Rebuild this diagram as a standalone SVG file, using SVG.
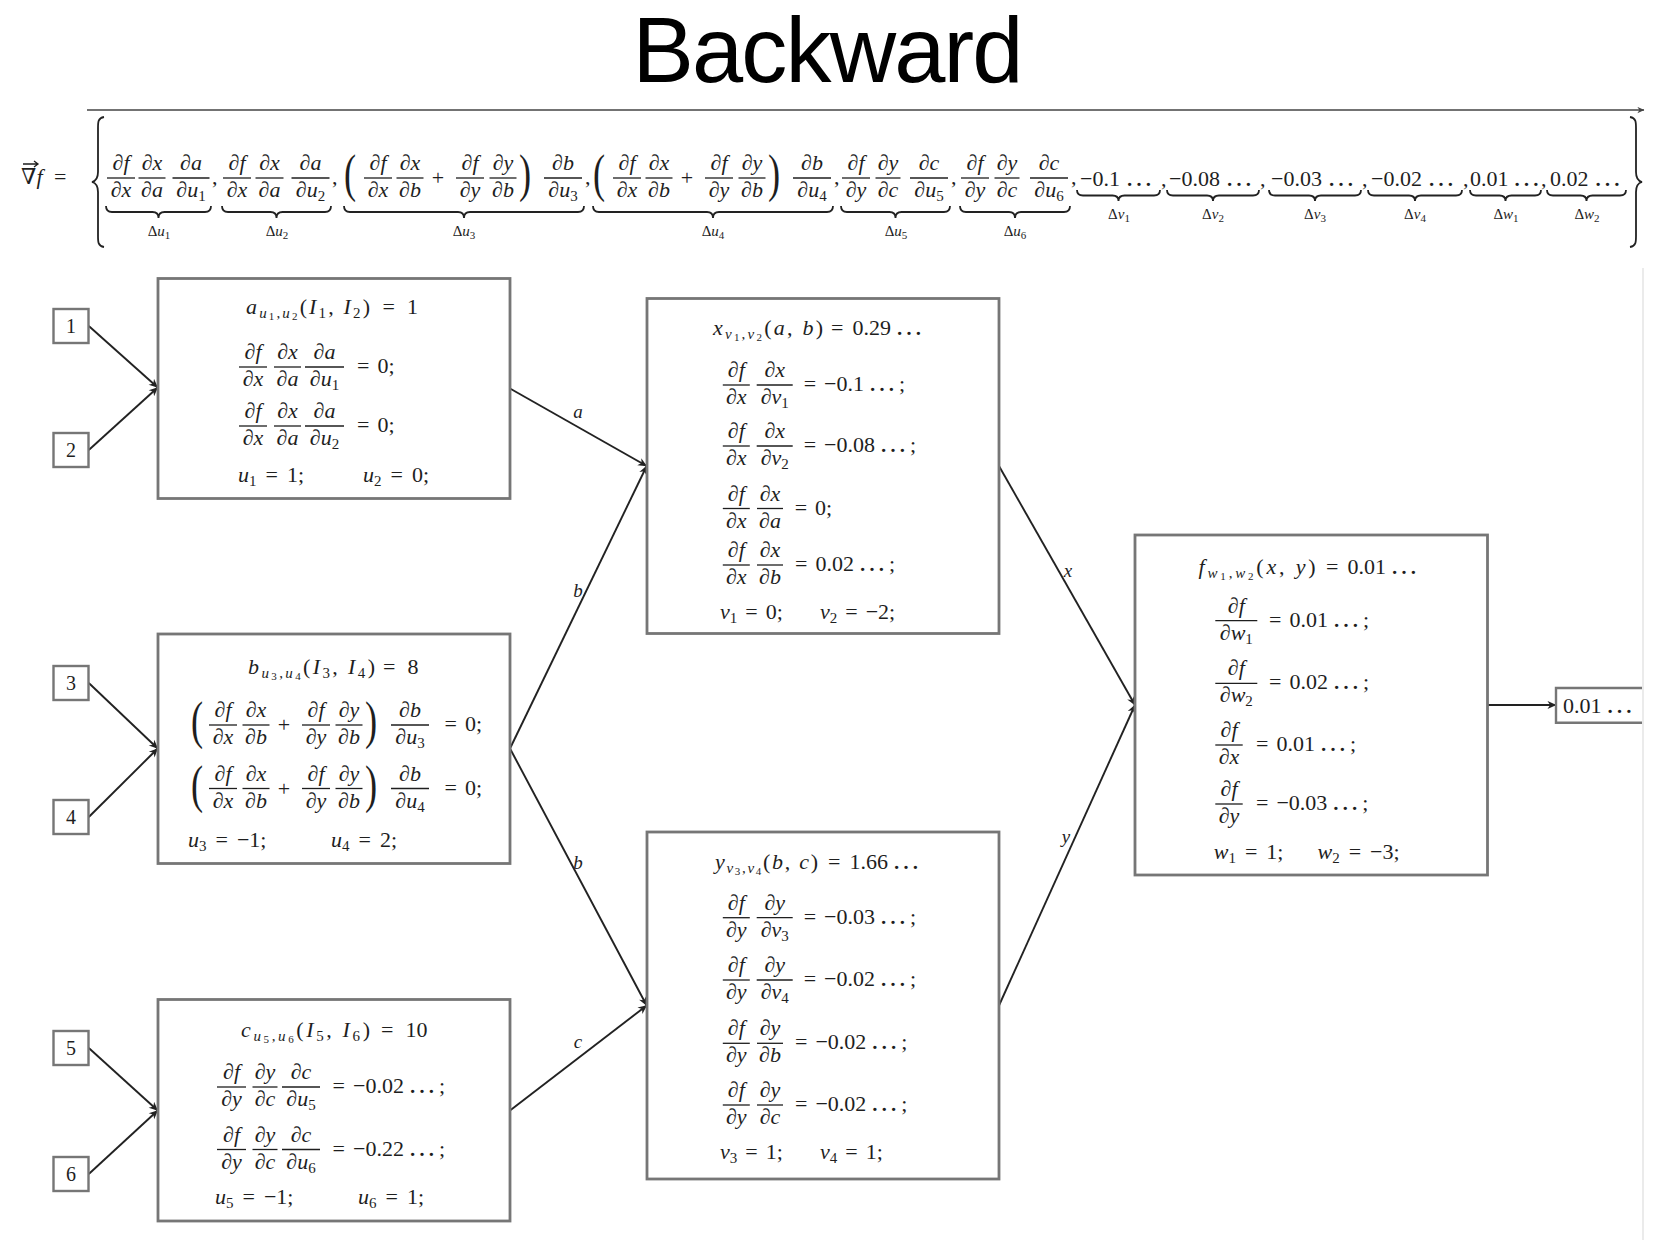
<svg xmlns="http://www.w3.org/2000/svg" width="1655" height="1240" viewBox="0 0 1655 1240">
<defs>
<style>
.t{font-family:"Liberation Serif","DejaVu Serif",serif;font-size:22px;fill:#1e1e1e}
.c{text-anchor:middle}
.i{font-style:italic}
.ss{font-size:15px}
.sss{font-size:11px}
.sm{font-size:15px}
.el{font-size:28px}
.big{font-size:52px}
.dg{font-size:20px}
.fb{stroke:#1e1e1e;stroke-width:1.3}
.nb{fill:#fff;stroke:#767676;stroke-width:2.8}
.ib{fill:#fff;stroke:#767676;stroke-width:2.4}
.e{stroke:#222;stroke-width:1.9;fill:none;marker-end:url(#ah)}
.br{stroke:#222;stroke-width:1.8;fill:none}
.lb{font-family:"Liberation Serif","DejaVu Serif",serif;font-size:19px;font-style:italic;fill:#222;text-anchor:middle}
.ttl{font-family:"Liberation Sans",Arial,sans-serif;font-size:92px;fill:#000;text-anchor:middle}
</style>
<marker id="ah" viewBox="0 0 10 10" refX="9.5" refY="5" markerUnits="userSpaceOnUse" markerWidth="10" markerHeight="9" orient="auto">
<path d="M0,0.5 L10,5 L0,9.5 L3,5 z" fill="#222"/>
</marker>
<marker id="ah2" viewBox="0 0 10 10" refX="9.5" refY="5" markerUnits="userSpaceOnUse" markerWidth="8" markerHeight="7" orient="auto">
<path d="M0,0.5 L10,5 L0,9.5 L3,5 z" fill="#444"/>
</marker>
</defs>
<rect width="1655" height="1240" fill="#fff"/>

<g id="title"><text class="ttl" x="828" y="82" textLength="391">Backward</text></g>

<g id="timeline"><line x1="87" y1="110" x2="1644" y2="110" stroke="#444" stroke-width="1.4" marker-end="url(#ah2)"/></g>
<line x1="1643" y1="268" x2="1643" y2="1240" stroke="#e4e4e4" stroke-width="1.5"/>

<g id="gradient">
<path d="M23,164 H37.5 M34,161 L38,164 L34,167" stroke="#1e1e1e" stroke-width="1.3" fill="none"/>
<text class="t" x="21" y="184">∇<tspan class="i">f</tspan></text>
<text class="t" x="54" y="184">=</text>
<path class="br" d="M104,117 C98,118 98,122 98,128 L98,172 C98,178 96,181 92,182 C96,183 98,186 98,192 L98,236 C98,242 98,246 104,247"/>
<path class="br" d="M1630,117 C1636,118 1636,122 1636,128 L1636,172 C1636,178 1638,181 1642,182 C1638,183 1636,186 1636,192 L1636,236 C1636,242 1636,246 1630,247"/>
<!-- du1 -->
<g transform="translate(121,178)"><text class="t c" y="-8">∂<tspan class="i">f</tspan></text><line class="fb" x1="-14" x2="14"/><text class="t c" y="19">∂<tspan class="i">x</tspan></text></g>
<g transform="translate(152,178)"><text class="t c" y="-8">∂<tspan class="i">x</tspan></text><line class="fb" x1="-13.5" x2="13.5"/><text class="t c" y="19">∂<tspan class="i">a</tspan></text></g>
<g transform="translate(191,178)"><text class="t c" y="-8">∂<tspan class="i">a</tspan></text><line class="fb" x1="-18.5" x2="18.5"/><text class="t c" y="19">∂<tspan class="i">u</tspan><tspan class="ss" dy="4">1</tspan></text></g>
<text class="t" x="212" y="184">,</text>
<!-- du2 -->
<g transform="translate(237,178)"><text class="t c" y="-8">∂<tspan class="i">f</tspan></text><line class="fb" x1="-14" x2="14"/><text class="t c" y="19">∂<tspan class="i">x</tspan></text></g>
<g transform="translate(269.5,178)"><text class="t c" y="-8">∂<tspan class="i">x</tspan></text><line class="fb" x1="-14" x2="14"/><text class="t c" y="19">∂<tspan class="i">a</tspan></text></g>
<g transform="translate(310.5,178)"><text class="t c" y="-8">∂<tspan class="i">a</tspan></text><line class="fb" x1="-19" x2="19"/><text class="t c" y="19">∂<tspan class="i">u</tspan><tspan class="ss" dy="4">2</tspan></text></g>
<text class="t" x="332" y="184">,</text>
<!-- du3 -->
<text class="t big" transform="translate(344,191) scale(0.7,1)">(</text>
<g transform="translate(378,178)"><text class="t c" y="-8">∂<tspan class="i">f</tspan></text><line class="fb" x1="-14" x2="14"/><text class="t c" y="19">∂<tspan class="i">x</tspan></text></g>
<g transform="translate(410,178)"><text class="t c" y="-8">∂<tspan class="i">x</tspan></text><line class="fb" x1="-13.5" x2="13.5"/><text class="t c" y="19">∂<tspan class="i">b</tspan></text></g>
<text class="t c" x="438" y="185">+</text>
<g transform="translate(470,178)"><text class="t c" y="-8">∂<tspan class="i">f</tspan></text><line class="fb" x1="-14" x2="14"/><text class="t c" y="19">∂<tspan class="i">y</tspan></text></g>
<g transform="translate(503,178)"><text class="t c" y="-8">∂<tspan class="i">y</tspan></text><line class="fb" x1="-13.5" x2="13.5"/><text class="t c" y="19">∂<tspan class="i">b</tspan></text></g>
<text class="t big" transform="translate(519,191) scale(0.7,1)">)</text>
<g transform="translate(563,178)"><text class="t c" y="-8">∂<tspan class="i">b</tspan></text><line class="fb" x1="-19" x2="19"/><text class="t c" y="19">∂<tspan class="i">u</tspan><tspan class="ss" dy="4">3</tspan></text></g>
<text class="t" x="585" y="184">,</text>
<!-- du4 -->
<text class="t big" transform="translate(593,191) scale(0.7,1)">(</text>
<g transform="translate(627,178)"><text class="t c" y="-8">∂<tspan class="i">f</tspan></text><line class="fb" x1="-14" x2="14"/><text class="t c" y="19">∂<tspan class="i">x</tspan></text></g>
<g transform="translate(659,178)"><text class="t c" y="-8">∂<tspan class="i">x</tspan></text><line class="fb" x1="-13.5" x2="13.5"/><text class="t c" y="19">∂<tspan class="i">b</tspan></text></g>
<text class="t c" x="687" y="185">+</text>
<g transform="translate(719,178)"><text class="t c" y="-8">∂<tspan class="i">f</tspan></text><line class="fb" x1="-14" x2="14"/><text class="t c" y="19">∂<tspan class="i">y</tspan></text></g>
<g transform="translate(752,178)"><text class="t c" y="-8">∂<tspan class="i">y</tspan></text><line class="fb" x1="-13.5" x2="13.5"/><text class="t c" y="19">∂<tspan class="i">b</tspan></text></g>
<text class="t big" transform="translate(768,191) scale(0.7,1)">)</text>
<g transform="translate(812,178)"><text class="t c" y="-8">∂<tspan class="i">b</tspan></text><line class="fb" x1="-19" x2="19"/><text class="t c" y="19">∂<tspan class="i">u</tspan><tspan class="ss" dy="4">4</tspan></text></g>
<text class="t" x="834" y="184">,</text>
<!-- du5 -->
<g transform="translate(856,178)"><text class="t c" y="-8">∂<tspan class="i">f</tspan></text><line class="fb" x1="-14" x2="14"/><text class="t c" y="19">∂<tspan class="i">y</tspan></text></g>
<g transform="translate(888,178)"><text class="t c" y="-8">∂<tspan class="i">y</tspan></text><line class="fb" x1="-12.5" x2="12.5"/><text class="t c" y="19">∂<tspan class="i">c</tspan></text></g>
<g transform="translate(929,178)"><text class="t c" y="-8">∂<tspan class="i">c</tspan></text><line class="fb" x1="-19" x2="19"/><text class="t c" y="19">∂<tspan class="i">u</tspan><tspan class="ss" dy="4">5</tspan></text></g>
<text class="t" x="951" y="184">,</text>
<!-- du6 -->
<g transform="translate(975,178)"><text class="t c" y="-8">∂<tspan class="i">f</tspan></text><line class="fb" x1="-14" x2="14"/><text class="t c" y="19">∂<tspan class="i">y</tspan></text></g>
<g transform="translate(1007,178)"><text class="t c" y="-8">∂<tspan class="i">y</tspan></text><line class="fb" x1="-12.5" x2="12.5"/><text class="t c" y="19">∂<tspan class="i">c</tspan></text></g>
<g transform="translate(1049,178)"><text class="t c" y="-8">∂<tspan class="i">c</tspan></text><line class="fb" x1="-19" x2="19"/><text class="t c" y="19">∂<tspan class="i">u</tspan><tspan class="ss" dy="4">6</tspan></text></g>
<text class="t" x="1071" y="184">,</text>
<!-- numbers -->
<text class="t" x="1080" y="186">−0.1<tspan class="el" dx="5">…</tspan></text><text class="t" x="1161" y="186">,</text>
<text class="t" x="1169" y="186">−0.08<tspan class="el" dx="5">…</tspan></text><text class="t" x="1260" y="186">,</text>
<text class="t" x="1271" y="186">−0.03<tspan class="el" dx="5">…</tspan></text><text class="t" x="1362" y="186">,</text>
<text class="t" x="1371" y="186">−0.02<tspan class="el" dx="5">…</tspan></text><text class="t" x="1463" y="186">,</text>
<text class="t" x="1470" y="186">0.01<tspan class="el" dx="4">…</tspan></text><text class="t" x="1541" y="186">,</text>
<text class="t" x="1550" y="186">0.02<tspan class="el" dx="5">…</tspan></text>
<!-- underbraces -->
<path class="br" d="M106,206 Q106,212 112,212 L152.5,212 Q158.5,212 158.5,218 Q158.5,212 164.5,212 L205,212 Q211,212 211,206"/>
<path class="br" d="M222,206 Q222,212 228,212 L270.5,212 Q276.5,212 276.5,218 Q276.5,212 282.5,212 L325,212 Q331,212 331,206"/>
<path class="br" d="M344,206 Q344,212 350,212 L458,212 Q464,212 464,218 Q464,212 470,212 L578,212 Q584,212 584,206"/>
<path class="br" d="M593,206 Q593,212 599,212 L707,212 Q713,212 713,218 Q713,212 719,212 L827,212 Q833,212 833,206"/>
<path class="br" d="M841,206 Q841,212 847,212 L889.5,212 Q895.5,212 895.5,218 Q895.5,212 901.5,212 L944,212 Q950,212 950,206"/>
<path class="br" d="M960,206 Q960,212 966,212 L1009,212 Q1015,212 1015,218 Q1015,212 1021,212 L1064,212 Q1070,212 1070,206"/>
<path class="br" d="M1077,190 Q1077,195.5 1083,195.5 L1112.5,195.5 Q1118.5,195.5 1118.5,201 Q1118.5,195.5 1124.5,195.5 L1154,195.5 Q1160,195.5 1160,190"/>
<path class="br" d="M1167,190 Q1167,195.5 1173,195.5 L1207,195.5 Q1213,195.5 1213,201 Q1213,195.5 1219,195.5 L1253,195.5 Q1259,195.5 1259,190"/>
<path class="br" d="M1269,190 Q1269,195.5 1275,195.5 L1309,195.5 Q1315,195.5 1315,201 Q1315,195.5 1321,195.5 L1355,195.5 Q1361,195.5 1361,190"/>
<path class="br" d="M1368,190 Q1368,195.5 1374,195.5 L1409,195.5 Q1415,195.5 1415,201 Q1415,195.5 1421,195.5 L1456,195.5 Q1462,195.5 1462,190"/>
<path class="br" d="M1470,190 Q1470,195.5 1476,195.5 L1499.5,195.5 Q1505.5,195.5 1505.5,201 Q1505.5,195.5 1511.5,195.5 L1535,195.5 Q1541,195.5 1541,190"/>
<path class="br" d="M1547,190 Q1547,195.5 1553,195.5 L1580.5,195.5 Q1586.5,195.5 1586.5,201 Q1586.5,195.5 1592.5,195.5 L1620,195.5 Q1626,195.5 1626,190"/>
<!-- labels -->
<text class="t c sm" x="159" y="236">Δ<tspan class="i">u</tspan><tspan class="sss" dy="3">1</tspan></text>
<text class="t c sm" x="277" y="236">Δ<tspan class="i">u</tspan><tspan class="sss" dy="3">2</tspan></text>
<text class="t c sm" x="464" y="236">Δ<tspan class="i">u</tspan><tspan class="sss" dy="3">3</tspan></text>
<text class="t c sm" x="713" y="236">Δ<tspan class="i">u</tspan><tspan class="sss" dy="3">4</tspan></text>
<text class="t c sm" x="896" y="236">Δ<tspan class="i">u</tspan><tspan class="sss" dy="3">5</tspan></text>
<text class="t c sm" x="1015" y="236">Δ<tspan class="i">u</tspan><tspan class="sss" dy="3">6</tspan></text>
<text class="t c sm" x="1119" y="219">Δ<tspan class="i">v</tspan><tspan class="sss" dy="3">1</tspan></text>
<text class="t c sm" x="1213" y="219">Δ<tspan class="i">v</tspan><tspan class="sss" dy="3">2</tspan></text>
<text class="t c sm" x="1315" y="219">Δ<tspan class="i">v</tspan><tspan class="sss" dy="3">3</tspan></text>
<text class="t c sm" x="1415" y="219">Δ<tspan class="i">v</tspan><tspan class="sss" dy="3">4</tspan></text>
<text class="t c sm" x="1506" y="219">Δ<tspan class="i">w</tspan><tspan class="sss" dy="3">1</tspan></text>
<text class="t c sm" x="1587" y="219">Δ<tspan class="i">w</tspan><tspan class="sss" dy="3">2</tspan></text>
</g>

<g id="connectors">
<path class="e" d="M88.8,326 L157.7,387.5"/>
<path class="e" d="M88.8,450 L157.7,387.5"/>
<path class="e" d="M88.8,683 L157.7,748.5"/>
<path class="e" d="M88.8,817 L157.7,748.5"/>
<path class="e" d="M88.8,1048 L157.7,1110.5"/>
<path class="e" d="M88.8,1174 L157.7,1110.5"/>
<path class="e" d="M510,388.5 L646.7,466"/>
<path class="e" d="M510,748.5 L646.7,466"/>
<path class="e" d="M510,748.5 L646.7,1005.5"/>
<path class="e" d="M510,1110.5 L646.7,1005.5"/>
<path class="e" d="M999,466 L1135,705"/>
<path class="e" d="M999,1005.5 L1135,705"/>
<path class="e" d="M1487.5,705 L1556,705"/>
<text class="lb" x="578" y="418">a</text>
<text class="lb" x="578" y="597">b</text>
<text class="lb" x="578" y="869">b</text>
<text class="lb" x="578" y="1048">c</text>
<text class="lb" x="1068" y="577">x</text>
<text class="lb" x="1066" y="843">y</text>
</g>

<g id="in1"><rect class="ib" x="53.5" y="309" width="35" height="34"/><text class="t c dg" x="71" y="333">1</text></g>
<g id="in2"><rect class="ib" x="53.5" y="433" width="35" height="34"/><text class="t c dg" x="71" y="457">2</text></g>
<g id="in3"><rect class="ib" x="53.5" y="666" width="35" height="34"/><text class="t c dg" x="71" y="690">3</text></g>
<g id="in4"><rect class="ib" x="53.5" y="800" width="35" height="34"/><text class="t c dg" x="71" y="824">4</text></g>
<g id="in5"><rect class="ib" x="53.5" y="1031" width="35" height="34"/><text class="t c dg" x="71" y="1055">5</text></g>
<g id="in6"><rect class="ib" x="53.5" y="1157" width="35" height="34"/><text class="t c dg" x="71" y="1181">6</text></g>

<g id="node-a">
<rect class="nb" x="158" y="278.5" width="352" height="220"/>
<text class="t" x="246" y="314" textLength="124"><tspan class="i">a</tspan><tspan class="ss i" dy="4">u</tspan><tspan class="sss" dy="2">1</tspan><tspan class="ss" dy="-2">,</tspan><tspan class="ss i">u</tspan><tspan class="sss" dy="2">2</tspan><tspan dy="-6">(</tspan><tspan class="i">I</tspan><tspan class="ss" dy="4">1</tspan><tspan dy="-4">, </tspan><tspan class="i">I</tspan><tspan class="ss" dy="4">2</tspan><tspan dy="-4">)</tspan></text>
<text class="t" x="382.5" y="314">=<tspan dx="12">1</tspan></text>
<g transform="translate(253,367)"><text class="t c" y="-8">∂<tspan class="i">f</tspan></text><line class="fb" x1="-14" x2="14"/><text class="t c" y="19">∂<tspan class="i">x</tspan></text></g>
<g transform="translate(287.5,367)"><text class="t c" y="-8">∂<tspan class="i">x</tspan></text><line class="fb" x1="-13.5" x2="13.5"/><text class="t c" y="19">∂<tspan class="i">a</tspan></text></g>
<g transform="translate(324.5,367)"><text class="t c" y="-8">∂<tspan class="i">a</tspan></text><line class="fb" x1="-19.5" x2="19.5"/><text class="t c" y="19">∂<tspan class="i">u</tspan><tspan class="ss" dy="4">1</tspan></text></g>
<text class="t" x="357" y="373">=<tspan dx="8">0;</tspan></text>
<g transform="translate(253,426)"><text class="t c" y="-8">∂<tspan class="i">f</tspan></text><line class="fb" x1="-14" x2="14"/><text class="t c" y="19">∂<tspan class="i">x</tspan></text></g>
<g transform="translate(287.5,426)"><text class="t c" y="-8">∂<tspan class="i">x</tspan></text><line class="fb" x1="-13.5" x2="13.5"/><text class="t c" y="19">∂<tspan class="i">a</tspan></text></g>
<g transform="translate(324.5,426)"><text class="t c" y="-8">∂<tspan class="i">a</tspan></text><line class="fb" x1="-19.5" x2="19.5"/><text class="t c" y="19">∂<tspan class="i">u</tspan><tspan class="ss" dy="4">2</tspan></text></g>
<text class="t" x="357" y="432">=<tspan dx="8">0;</tspan></text>
<text class="t" x="238" y="482"><tspan class="i">u</tspan><tspan class="ss" dy="4">1</tspan><tspan dy="-4" dx="9">=</tspan><tspan dx="9">1;</tspan></text>
<text class="t" x="363" y="482"><tspan class="i">u</tspan><tspan class="ss" dy="4">2</tspan><tspan dy="-4" dx="9">=</tspan><tspan dx="9">0;</tspan></text>
</g>

<g id="node-b">
<rect class="nb" x="158" y="634" width="352" height="229.5"/>
<text class="t" x="248" y="673.5" textLength="127"><tspan class="i">b</tspan><tspan class="ss i" dy="4">u</tspan><tspan class="sss" dy="2">3</tspan><tspan class="ss" dy="-2">,</tspan><tspan class="ss i">u</tspan><tspan class="sss" dy="2">4</tspan><tspan dy="-6">(</tspan><tspan class="i">I</tspan><tspan class="ss" dy="4">3</tspan><tspan dy="-4">, </tspan><tspan class="i">I</tspan><tspan class="ss" dy="4">4</tspan><tspan dy="-4">)</tspan></text>
<text class="t" x="383" y="673.5">=<tspan dx="12">8</tspan></text>
<text class="t big" transform="translate(191,738) scale(0.7,1)">(</text>
<g transform="translate(223,725)"><text class="t c" y="-8">∂<tspan class="i">f</tspan></text><line class="fb" x1="-14" x2="14"/><text class="t c" y="19">∂<tspan class="i">x</tspan></text></g>
<g transform="translate(256,725)"><text class="t c" y="-8">∂<tspan class="i">x</tspan></text><line class="fb" x1="-13.5" x2="13.5"/><text class="t c" y="19">∂<tspan class="i">b</tspan></text></g>
<text class="t c" x="284" y="732">+</text>
<g transform="translate(316,725)"><text class="t c" y="-8">∂<tspan class="i">f</tspan></text><line class="fb" x1="-14" x2="14"/><text class="t c" y="19">∂<tspan class="i">y</tspan></text></g>
<g transform="translate(349,725)"><text class="t c" y="-8">∂<tspan class="i">y</tspan></text><line class="fb" x1="-13.5" x2="13.5"/><text class="t c" y="19">∂<tspan class="i">b</tspan></text></g>
<text class="t big" transform="translate(365,738) scale(0.7,1)">)</text>
<g transform="translate(410,725)"><text class="t c" y="-8">∂<tspan class="i">b</tspan></text><line class="fb" x1="-19" x2="19"/><text class="t c" y="19">∂<tspan class="i">u</tspan><tspan class="ss" dy="4">3</tspan></text></g>
<text class="t" x="444.5" y="731">=<tspan dx="8">0;</tspan></text>
<text class="t big" transform="translate(191,801.5) scale(0.7,1)">(</text>
<g transform="translate(223,788.5)"><text class="t c" y="-8">∂<tspan class="i">f</tspan></text><line class="fb" x1="-14" x2="14"/><text class="t c" y="19">∂<tspan class="i">x</tspan></text></g>
<g transform="translate(256,788.5)"><text class="t c" y="-8">∂<tspan class="i">x</tspan></text><line class="fb" x1="-13.5" x2="13.5"/><text class="t c" y="19">∂<tspan class="i">b</tspan></text></g>
<text class="t c" x="284" y="795.5">+</text>
<g transform="translate(316,788.5)"><text class="t c" y="-8">∂<tspan class="i">f</tspan></text><line class="fb" x1="-14" x2="14"/><text class="t c" y="19">∂<tspan class="i">y</tspan></text></g>
<g transform="translate(349,788.5)"><text class="t c" y="-8">∂<tspan class="i">y</tspan></text><line class="fb" x1="-13.5" x2="13.5"/><text class="t c" y="19">∂<tspan class="i">b</tspan></text></g>
<text class="t big" transform="translate(365,801.5) scale(0.7,1)">)</text>
<g transform="translate(410,788.5)"><text class="t c" y="-8">∂<tspan class="i">b</tspan></text><line class="fb" x1="-19" x2="19"/><text class="t c" y="19">∂<tspan class="i">u</tspan><tspan class="ss" dy="4">4</tspan></text></g>
<text class="t" x="444.5" y="794.5">=<tspan dx="8">0;</tspan></text>
<text class="t" x="188" y="847"><tspan class="i">u</tspan><tspan class="ss" dy="4">3</tspan><tspan dy="-4" dx="9">=</tspan><tspan dx="9">−1;</tspan></text>
<text class="t" x="331" y="847"><tspan class="i">u</tspan><tspan class="ss" dy="4">4</tspan><tspan dy="-4" dx="9">=</tspan><tspan dx="9">2;</tspan></text>
</g>

<g id="node-c">
<rect class="nb" x="158" y="999.5" width="352" height="221.5"/>
<text class="t" x="241" y="1037" textLength="129"><tspan class="i">c</tspan><tspan class="ss i" dy="4">u</tspan><tspan class="sss" dy="2">5</tspan><tspan class="ss" dy="-2">,</tspan><tspan class="ss i">u</tspan><tspan class="sss" dy="2">6</tspan><tspan dy="-6">(</tspan><tspan class="i">I</tspan><tspan class="ss" dy="4">5</tspan><tspan dy="-4">, </tspan><tspan class="i">I</tspan><tspan class="ss" dy="4">6</tspan><tspan dy="-4">)</tspan></text>
<text class="t" x="381" y="1037">=<tspan dx="12">10</tspan></text>
<g transform="translate(231.5,1087)"><text class="t c" y="-8">∂<tspan class="i">f</tspan></text><line class="fb" x1="-14.5" x2="14.5"/><text class="t c" y="19">∂<tspan class="i">y</tspan></text></g>
<g transform="translate(265,1087)"><text class="t c" y="-8">∂<tspan class="i">y</tspan></text><line class="fb" x1="-12.5" x2="12.5"/><text class="t c" y="19">∂<tspan class="i">c</tspan></text></g>
<g transform="translate(301,1087)"><text class="t c" y="-8">∂<tspan class="i">c</tspan></text><line class="fb" x1="-19" x2="19"/><text class="t c" y="19">∂<tspan class="i">u</tspan><tspan class="ss" dy="4">5</tspan></text></g>
<text class="t" x="332.6" y="1093">=<tspan dx="8">−0.02</tspan><tspan class="el" dx="4">…</tspan><tspan dx="3">;</tspan></text>
<g transform="translate(231.5,1149.5)"><text class="t c" y="-8">∂<tspan class="i">f</tspan></text><line class="fb" x1="-14.5" x2="14.5"/><text class="t c" y="19">∂<tspan class="i">y</tspan></text></g>
<g transform="translate(265,1149.5)"><text class="t c" y="-8">∂<tspan class="i">y</tspan></text><line class="fb" x1="-12.5" x2="12.5"/><text class="t c" y="19">∂<tspan class="i">c</tspan></text></g>
<g transform="translate(301,1149.5)"><text class="t c" y="-8">∂<tspan class="i">c</tspan></text><line class="fb" x1="-19" x2="19"/><text class="t c" y="19">∂<tspan class="i">u</tspan><tspan class="ss" dy="4">6</tspan></text></g>
<text class="t" x="332.6" y="1155.5">=<tspan dx="8">−0.22</tspan><tspan class="el" dx="4">…</tspan><tspan dx="3">;</tspan></text>
<text class="t" x="215" y="1203.5"><tspan class="i">u</tspan><tspan class="ss" dy="4">5</tspan><tspan dy="-4" dx="9">=</tspan><tspan dx="9">−1;</tspan></text>
<text class="t" x="358" y="1203.5"><tspan class="i">u</tspan><tspan class="ss" dy="4">6</tspan><tspan dy="-4" dx="9">=</tspan><tspan dx="9">1;</tspan></text>
</g>

<g id="node-x">
<rect class="nb" x="647" y="298.5" width="352" height="335"/>
<text class="t" x="713" y="335" textLength="110"><tspan class="i">x</tspan><tspan class="ss i" dy="4">v</tspan><tspan class="sss" dy="2">1</tspan><tspan class="ss" dy="-2">,</tspan><tspan class="ss i">v</tspan><tspan class="sss" dy="2">2</tspan><tspan dy="-6">(</tspan><tspan class="i">a</tspan>, <tspan class="i">b</tspan>)</text>
<text class="t" x="831" y="335">=<tspan dx="9">0.29</tspan><tspan class="el" dx="4">…</tspan></text>
<g transform="translate(736.3,385)"><text class="t c" y="-8">∂<tspan class="i">f</tspan></text><line class="fb" x1="-13.5" x2="13.5"/><text class="t c" y="19">∂<tspan class="i">x</tspan></text></g>
<g transform="translate(774.7,385)"><text class="t c" y="-8">∂<tspan class="i">x</tspan></text><line class="fb" x1="-18" x2="18"/><text class="t c" y="19">∂<tspan class="i">v</tspan><tspan class="ss" dy="4">1</tspan></text></g>
<text class="t" x="803.7" y="391">=<tspan dx="8">−0.1</tspan><tspan class="el" dx="4">…</tspan><tspan dx="3">;</tspan></text>
<g transform="translate(736.3,446)"><text class="t c" y="-8">∂<tspan class="i">f</tspan></text><line class="fb" x1="-13.5" x2="13.5"/><text class="t c" y="19">∂<tspan class="i">x</tspan></text></g>
<g transform="translate(774.7,446)"><text class="t c" y="-8">∂<tspan class="i">x</tspan></text><line class="fb" x1="-18" x2="18"/><text class="t c" y="19">∂<tspan class="i">v</tspan><tspan class="ss" dy="4">2</tspan></text></g>
<text class="t" x="803.7" y="452">=<tspan dx="8">−0.08</tspan><tspan class="el" dx="4">…</tspan><tspan dx="3">;</tspan></text>
<g transform="translate(736.3,508.5)"><text class="t c" y="-8">∂<tspan class="i">f</tspan></text><line class="fb" x1="-13.5" x2="13.5"/><text class="t c" y="19">∂<tspan class="i">x</tspan></text></g>
<g transform="translate(770,508.5)"><text class="t c" y="-8">∂<tspan class="i">x</tspan></text><line class="fb" x1="-13" x2="13"/><text class="t c" y="19">∂<tspan class="i">a</tspan></text></g>
<text class="t" x="794.7" y="514.5">=<tspan dx="8">0;</tspan></text>
<g transform="translate(736.3,565)"><text class="t c" y="-8">∂<tspan class="i">f</tspan></text><line class="fb" x1="-13.5" x2="13.5"/><text class="t c" y="19">∂<tspan class="i">x</tspan></text></g>
<g transform="translate(770,565)"><text class="t c" y="-8">∂<tspan class="i">x</tspan></text><line class="fb" x1="-13" x2="13"/><text class="t c" y="19">∂<tspan class="i">b</tspan></text></g>
<text class="t" x="795" y="571">=<tspan dx="8">0.02</tspan><tspan class="el" dx="4">…</tspan><tspan dx="3">;</tspan></text>
<text class="t" x="720" y="618.5"><tspan class="i">v</tspan><tspan class="ss" dy="4">1</tspan><tspan dy="-4" dx="8">=</tspan><tspan dx="8">0;</tspan></text>
<text class="t" x="820" y="618.5"><tspan class="i">v</tspan><tspan class="ss" dy="4">2</tspan><tspan dy="-4" dx="8">=</tspan><tspan dx="8">−2;</tspan></text>
</g>

<g id="node-y">
<rect class="nb" x="647" y="832" width="352" height="347"/>
<text class="t" x="715" y="868.5" textLength="103"><tspan class="i">y</tspan><tspan class="ss i" dy="4">v</tspan><tspan class="sss" dy="2">3</tspan><tspan class="ss" dy="-2">,</tspan><tspan class="ss i">v</tspan><tspan class="sss" dy="2">4</tspan><tspan dy="-6">(</tspan><tspan class="i">b</tspan>, <tspan class="i">c</tspan>)</text>
<text class="t" x="828" y="868.5">=<tspan dx="9">1.66</tspan><tspan class="el" dx="4">…</tspan></text>
<g transform="translate(736.3,917.7)"><text class="t c" y="-8">∂<tspan class="i">f</tspan></text><line class="fb" x1="-13.5" x2="13.5"/><text class="t c" y="19">∂<tspan class="i">y</tspan></text></g>
<g transform="translate(774.7,917.7)"><text class="t c" y="-8">∂<tspan class="i">y</tspan></text><line class="fb" x1="-18" x2="18"/><text class="t c" y="19">∂<tspan class="i">v</tspan><tspan class="ss" dy="4">3</tspan></text></g>
<text class="t" x="803.7" y="923.7">=<tspan dx="8">−0.03</tspan><tspan class="el" dx="4">…</tspan><tspan dx="3">;</tspan></text>
<g transform="translate(736.3,980)"><text class="t c" y="-8">∂<tspan class="i">f</tspan></text><line class="fb" x1="-13.5" x2="13.5"/><text class="t c" y="19">∂<tspan class="i">y</tspan></text></g>
<g transform="translate(774.7,980)"><text class="t c" y="-8">∂<tspan class="i">y</tspan></text><line class="fb" x1="-18" x2="18"/><text class="t c" y="19">∂<tspan class="i">v</tspan><tspan class="ss" dy="4">4</tspan></text></g>
<text class="t" x="803.7" y="986">=<tspan dx="8">−0.02</tspan><tspan class="el" dx="4">…</tspan><tspan dx="3">;</tspan></text>
<g transform="translate(736.3,1043.3)"><text class="t c" y="-8">∂<tspan class="i">f</tspan></text><line class="fb" x1="-13.5" x2="13.5"/><text class="t c" y="19">∂<tspan class="i">y</tspan></text></g>
<g transform="translate(770,1043.3)"><text class="t c" y="-8">∂<tspan class="i">y</tspan></text><line class="fb" x1="-13" x2="13"/><text class="t c" y="19">∂<tspan class="i">b</tspan></text></g>
<text class="t" x="795" y="1049.3">=<tspan dx="8">−0.02</tspan><tspan class="el" dx="4">…</tspan><tspan dx="3">;</tspan></text>
<g transform="translate(736.3,1105)"><text class="t c" y="-8">∂<tspan class="i">f</tspan></text><line class="fb" x1="-13.5" x2="13.5"/><text class="t c" y="19">∂<tspan class="i">y</tspan></text></g>
<g transform="translate(770,1105)"><text class="t c" y="-8">∂<tspan class="i">y</tspan></text><line class="fb" x1="-13" x2="13"/><text class="t c" y="19">∂<tspan class="i">c</tspan></text></g>
<text class="t" x="795" y="1111">=<tspan dx="8">−0.02</tspan><tspan class="el" dx="4">…</tspan><tspan dx="3">;</tspan></text>
<text class="t" x="720" y="1158.5"><tspan class="i">v</tspan><tspan class="ss" dy="4">3</tspan><tspan dy="-4" dx="8">=</tspan><tspan dx="8">1;</tspan></text>
<text class="t" x="820" y="1158.5"><tspan class="i">v</tspan><tspan class="ss" dy="4">4</tspan><tspan dy="-4" dx="8">=</tspan><tspan dx="8">1;</tspan></text>
</g>

<g id="node-f">
<rect class="nb" x="1135" y="535" width="352.5" height="340"/>
<text class="t" x="1198.6" y="573.5" textLength="117"><tspan class="i">f</tspan><tspan class="ss i" dy="4">w</tspan><tspan class="sss" dy="2">1</tspan><tspan class="ss" dy="-2">,</tspan><tspan class="ss i">w</tspan><tspan class="sss" dy="2">2</tspan><tspan dy="-6">(</tspan><tspan class="i">x</tspan>, <tspan class="i">y</tspan>)</text>
<text class="t" x="1326" y="573.5">=<tspan dx="9">0.01</tspan><tspan class="el" dx="4">…</tspan></text>
<g transform="translate(1236.3,620.7)"><text class="t c" y="-8">∂<tspan class="i">f</tspan></text><line class="fb" x1="-21" x2="21"/><text class="t c" y="19">∂<tspan class="i">w</tspan><tspan class="ss" dy="4">1</tspan></text></g>
<text class="t" x="1269" y="626.7">=<tspan dx="8">0.01</tspan><tspan class="el" dx="4">…</tspan><tspan dx="3">;</tspan></text>
<g transform="translate(1236.3,683.3)"><text class="t c" y="-8">∂<tspan class="i">f</tspan></text><line class="fb" x1="-21" x2="21"/><text class="t c" y="19">∂<tspan class="i">w</tspan><tspan class="ss" dy="4">2</tspan></text></g>
<text class="t" x="1269" y="689.3">=<tspan dx="8">0.02</tspan><tspan class="el" dx="4">…</tspan><tspan dx="3">;</tspan></text>
<g transform="translate(1229,745)"><text class="t c" y="-8">∂<tspan class="i">f</tspan></text><line class="fb" x1="-13.7" x2="13.7"/><text class="t c" y="19">∂<tspan class="i">x</tspan></text></g>
<text class="t" x="1256" y="751">=<tspan dx="8">0.01</tspan><tspan class="el" dx="4">…</tspan><tspan dx="3">;</tspan></text>
<g transform="translate(1229,804)"><text class="t c" y="-8">∂<tspan class="i">f</tspan></text><line class="fb" x1="-13.7" x2="13.7"/><text class="t c" y="19">∂<tspan class="i">y</tspan></text></g>
<text class="t" x="1256" y="810">=<tspan dx="8">−0.03</tspan><tspan class="el" dx="4">…</tspan><tspan dx="3">;</tspan></text>
<text class="t" x="1213.7" y="858.5"><tspan class="i">w</tspan><tspan class="ss" dy="4">1</tspan><tspan dy="-4" dx="9">=</tspan><tspan dx="9">1;</tspan></text>
<text class="t" x="1317.5" y="858.5"><tspan class="i">w</tspan><tspan class="ss" dy="4">2</tspan><tspan dy="-4" dx="9">=</tspan><tspan dx="9">−3;</tspan></text>
</g>

<g id="output">
<path d="M1642,688 H1556 V722.7 H1642" fill="#fff" stroke="#767676" stroke-width="2.4"/>
<text class="t" x="1563" y="713">0.01<tspan class="el" dx="4">…</tspan></text>
</g>
</svg>
